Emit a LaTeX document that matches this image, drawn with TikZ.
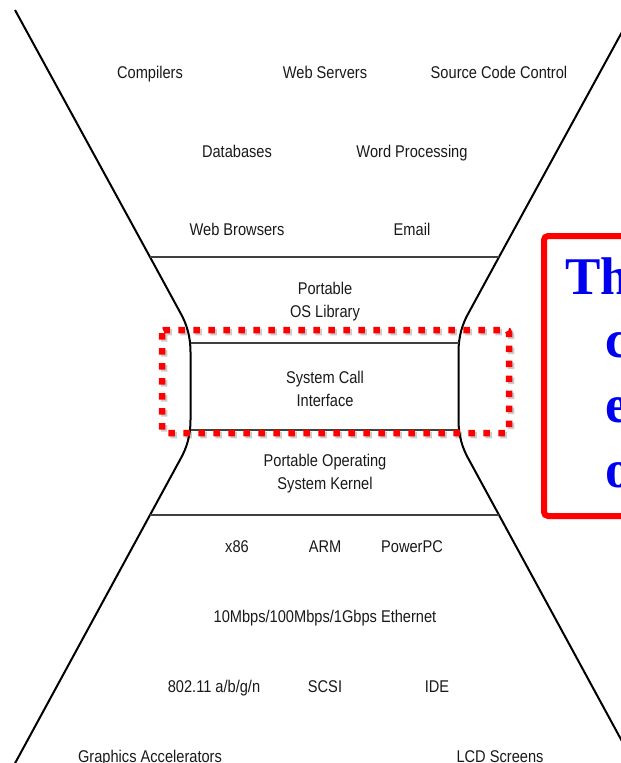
\documentclass[tikz,border=0pt]{standalone}
\usepackage{fontspec}
\setmainfont{Liberation Sans}[FakeStretch=0.86]
\newfontfamily\notefont{Liberation Serif}
\usepackage{tikz}
\usetikzlibrary{shadows}
\definecolor{notered}{RGB}{255,0,0}
\definecolor{noteblue}{RGB}{0,0,240}
\definecolor{inkgray}{RGB}{25,25,25}

\begin{document}
\begin{tikzpicture}[x=1pt, y=-1pt,
    lbl/.style={anchor=base, inner sep=0pt, text=inkgray, font=\fontsize{17}{20}\selectfont},
    rim/.style={draw=black, line width=2pt, line join=round},
    layer/.style={draw=black!75, line width=1.8pt},
    hilite/.style={draw=notered, line width=6.5pt, dash pattern=on 6.5pt off 8.5pt, rounded corners=3pt},
    notebox/.style={draw=notered, fill=white, line width=6pt, rounded corners=4pt, minimum width=130pt, minimum height=280pt,
      drop shadow={shadow xshift=2pt, shadow yshift=-3pt, opacity=0.35}},
    notetext/.style={anchor=base west, inner sep=0pt, text=noteblue, font=\notefont\bfseries\fontsize{53}{60}\selectfont}]
    \useasboundingbox (0,0) rectangle (621,763);

    \draw[rim] (15,10) -- (150,257) -- (181,314) .. controls (186.5,324) and (190.5,336) .. (190.5,352) -- (190.5,420)
      .. controls (190.5,436) and (186.5,448) .. (181,458) -- (150,515) -- (13,767);
    \draw[rim] (634,10) -- (499,257) -- (468,314) .. controls (462.5,324) and (458.5,336) .. (458.5,352) -- (458.5,420)
      .. controls (458.5,436) and (462.5,448) .. (468,458) -- (499,515) -- (636,767);

    \draw[layer] (150,257) -- (499,257);
    \draw[layer] (190.5,343) -- (458.5,343);
    \draw[layer] (190.5,430) -- (458.5,430);
    \draw[layer] (150,515) -- (499,515);

    \node[lbl] (comp) at (150,78) {Compilers};
    \node[lbl] (websrv) at (325,78) {Web Servers};
    \node[lbl] (srcctl) at (499,78) {Source Code Control};
    \node[lbl] (db) at (237,157) {Databases};
    \node[lbl] (wordp) at (412,157) {Word Processing};
    \node[lbl] (browser) at (237,235) {Web Browsers};
    \node[lbl] (email) at (412,235) {Email};

    \node[lbl] (oslibA) at (325,294) {Portable};
    \node[lbl] (oslibB) at (325,317) {OS Library};
    \node[lbl] (syscallA) at (325,383) {System Call};
    \node[lbl] (syscallB) at (325,406) {Interface};
    \node[lbl] (kernelA) at (325,466) {Portable Operating};
    \node[lbl] (kernelB) at (325,489) {System Kernel};

    \node[lbl] (xeightysix) at (237,552) {x86};
    \node[lbl] (arm) at (325,552) {ARM};
    \node[lbl] (ppc) at (412,552) {PowerPC};
    \node[lbl] (ether) at (325,622) {10Mbps/100Mbps/1Gbps Ethernet};
    \node[lbl] (wifi) at (214,692) {802.11 a/b/g/n};
    \node[lbl] (scsi) at (325,692) {SCSI};
    \node[lbl] (ide) at (437,692) {IDE};
    \node[lbl] (gfx) at (150,762) {Graphics Accelerators};
    \node[lbl] (lcd) at (500,762) {LCD Screens};

    \draw[hilite, draw=black, opacity=0.2] (164,332) rectangle (511,435);
    \draw[hilite] (162,330) rectangle (509,433);

    \node[notebox] (note) at (609,376) {};
    \node[notetext] (noteth) at (565,294) {Th};
    \node[notetext] (notec) at (605,357) {c};
    \node[notetext] (notee) at (605,422) {e};
    \node[notetext] (noteo) at (605,487) {o};
  \end{tikzpicture}
\end{document}
